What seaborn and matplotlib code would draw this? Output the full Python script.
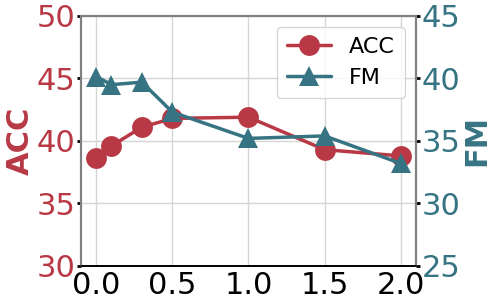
import numpy as np
import matplotlib
matplotlib.use("Agg")
import matplotlib.pyplot as plt
import seaborn as sns
import pandas as pd

sns.set_style("white")
plt.rcParams["font.family"] = ["DejaVu Sans"]
plt.rcParams["text.color"] = "black"
plt.rcParams["xtick.color"] = "black"
plt.rcParams["ytick.color"] = "black"

red = "#b83945"
teal = "#377483"

xs = [0.0, 0.1, 0.3, 0.5, 1.0, 1.5, 2.0]
acc = [38.6, 39.6, 41.1, 41.8, 41.9, 39.3, 38.8]
fm = [40.15, 39.5, 39.7, 37.3, 35.2, 35.4, 33.2]

df = pd.DataFrame({"x": xs, "ACC": acc, "FM": fm})

fig, ax1 = plt.subplots(figsize=(4.97, 3.06), dpi=100)
fig.subplots_adjust(left=0.163, right=0.837, top=0.948, bottom=0.131)
ax2 = ax1.twinx()

sns.lineplot(data=df, x="x", y="ACC", ax=ax1, color=red, marker="o",
             markersize=15, lw=2.5, markeredgewidth=0, label="ACC", legend=False)
sns.lineplot(data=df, x="x", y="FM", ax=ax2, color=teal, marker="^",
             markersize=15, lw=2.5, markeredgewidth=0, label="FM", legend=False)

ax1.set_ylim(30, 50)
ax2.set_ylim(25, 45)
ax1.set_xlim(-0.1, 2.1)
ax1.set_yticks([30, 35, 40, 45, 50])
ax2.set_yticks([25, 30, 35, 40, 45])
ax1.set_xticks([0.0, 0.5, 1.0, 1.5, 2.0])

ax1.grid(True, color="#d5d5d5", lw=1)
ax1.set_axisbelow(True)

ax1.set_xlabel("")
ax1.set_ylabel("ACC", color=red, fontsize=22, fontweight="bold", labelpad=1)
ax2.set_ylabel("FM", color=teal, fontsize=22, fontweight="bold", labelpad=1)

ax1.tick_params(axis="y", labelcolor=red, labelsize=22, length=3, width=2, pad=1)
ax1.tick_params(axis="x", labelcolor="black", labelsize=22, length=3, width=2, pad=1)
ax2.tick_params(axis="y", labelcolor=teal, labelsize=22, length=3, width=2, pad=1)

for ax in (ax1, ax2):
    for s in ["left", "right", "top"]:
        ax.spines[s].set_color("#808080")
        ax.spines[s].set_linewidth(1.5)
    ax.spines["bottom"].set_color("black")
    ax.spines["bottom"].set_linewidth(1.2)

h1, l1 = ax1.get_legend_handles_labels()
h2, l2 = ax2.get_legend_handles_labels()
ax2.legend(h1 + h2, l1 + l2, loc="upper right", fontsize=16, frameon=True,
           handlelength=2.0, borderpad=0.45)

plt.savefig("out.png", dpi=100)
